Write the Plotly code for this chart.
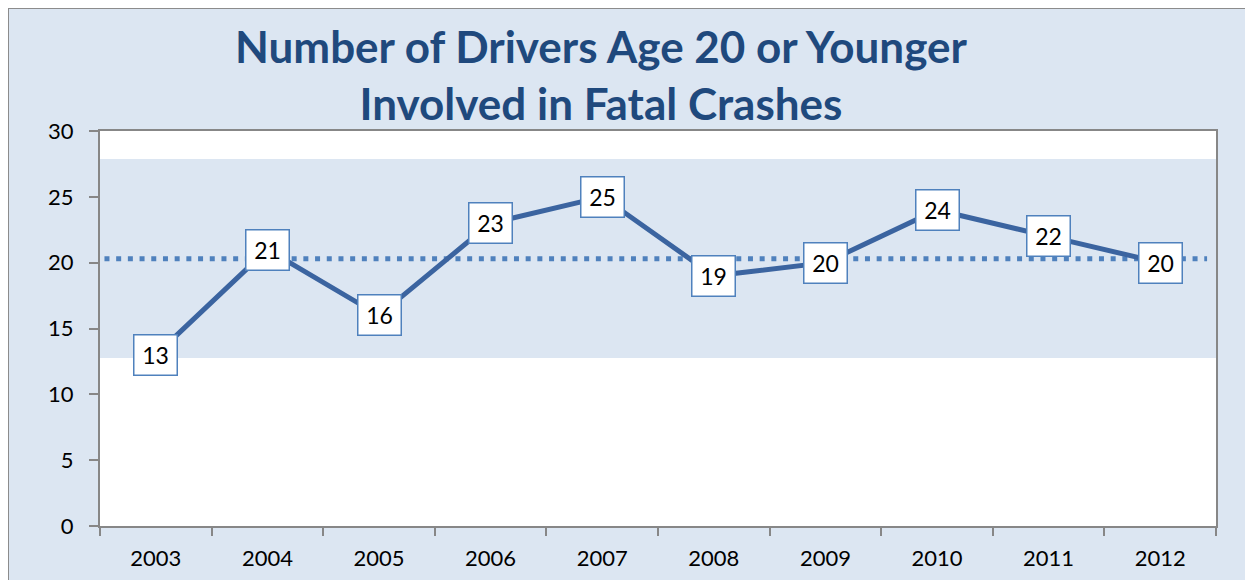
import plotly.graph_objects as go

years = ["2003", "2004", "2005", "2006", "2007", "2008", "2009", "2010", "2011", "2012"]
drivers = [13, 21, 16, 23, 25, 19, 20, 24, 22, 20]
average = 20.3
band_low = 12.76
band_high = 27.87
title_lines = ["Number of Drivers Age 20 or Younger", "Involved in Fatal Crashes"]

OFF = 8  # page offset of the figure inside the browser window
W, H = 1253, 580
L, T = 100 - OFF, 131 - OFF
pw, ph = 1116, 395
R, B = W - L - pw, H - T - ph

BG = "#DCE6F2"
AXIS = "#878787"
LINE = "#3B64A0"
LBL = "#4F81BD"
FONT = "Lato"

fig = go.Figure()
fig.add_trace(go.Scatter(x=years, y=drivers, mode="lines",
                         line=dict(color=LINE, width=5), hoverinfo="skip",
                         showlegend=False))

shapes = [
    dict(type="rect", xref="paper", yref="y", x0=0, x1=1, y0=band_low, y1=band_high,
         fillcolor=BG, line=dict(width=0), layer="below"),
    dict(type="line", xref="paper", yref="y", x0=0.004, x1=0.992, y0=average, y1=average,
         line=dict(color=LBL, width=5, dash="5px,6.7px"), layer="below"),
    # outer chart border
    dict(type="rect", xref="paper", yref="paper",
         x0=(0 - L) / pw, x1=(W + 10 - L) / pw,
         y0=(T + ph - (H + 10)) / ph, y1=(T + ph - 0) / ph,
         line=dict(color="#8C8C8C", width=2), fillcolor="rgba(0,0,0,0)", layer="above"),
]

annotations = []
for i, v in enumerate(drivers):
    annotations.append(dict(x=i, y=v, xref="x", yref="y", text=str(v), showarrow=False,
                            font=dict(family=FONT, size=23, color="black"),
                            bgcolor="white", bordercolor=LBL, borderwidth=1.5,
                            borderpad=0, width=42, height=39))
annotations.append(dict(xref="paper", yref="paper", x=(601 - OFF - L) / pw,
                        y=(T + ph - (75 - OFF)) / ph,
                        xanchor="center", yanchor="middle", showarrow=False,
                        text="<b>" + "<br>".join(title_lines) + "</b>",
                        font=dict(family=FONT, size=44, color="#1F497D")))

fig.update_layout(
    width=W, height=H,
    margin=dict(l=L, r=R, t=T, b=B, pad=0, autoexpand=False),
    paper_bgcolor=BG, plot_bgcolor="white",
    shapes=shapes, annotations=annotations,
    font=dict(family=FONT, size=22, color="black"),
    showlegend=False,
)
fig.update_xaxes(type="category", categoryorder="array", categoryarray=years,
                 range=[-0.5, len(years) - 0.5], tickson="boundaries", ticks="outside", ticklen=8,
                 tickwidth=2, tickcolor=AXIS, showline=True, linecolor=AXIS, linewidth=2,
                 mirror=True, showgrid=False, ticklabelstandoff=12, tickangle=0,
                 tickfont=dict(family=FONT, size=22, color="black"))
fig.update_yaxes(range=[0, 30], dtick=5, ticks="outside", ticklen=9, tickwidth=2,
                 tickcolor=AXIS, showline=True, linecolor=AXIS, linewidth=2, mirror=True,
                 showgrid=False, zeroline=False, ticklabelstandoff=11,
                 tickfont=dict(family=FONT, size=22, color="black"))

fig.write_html("out.html")
